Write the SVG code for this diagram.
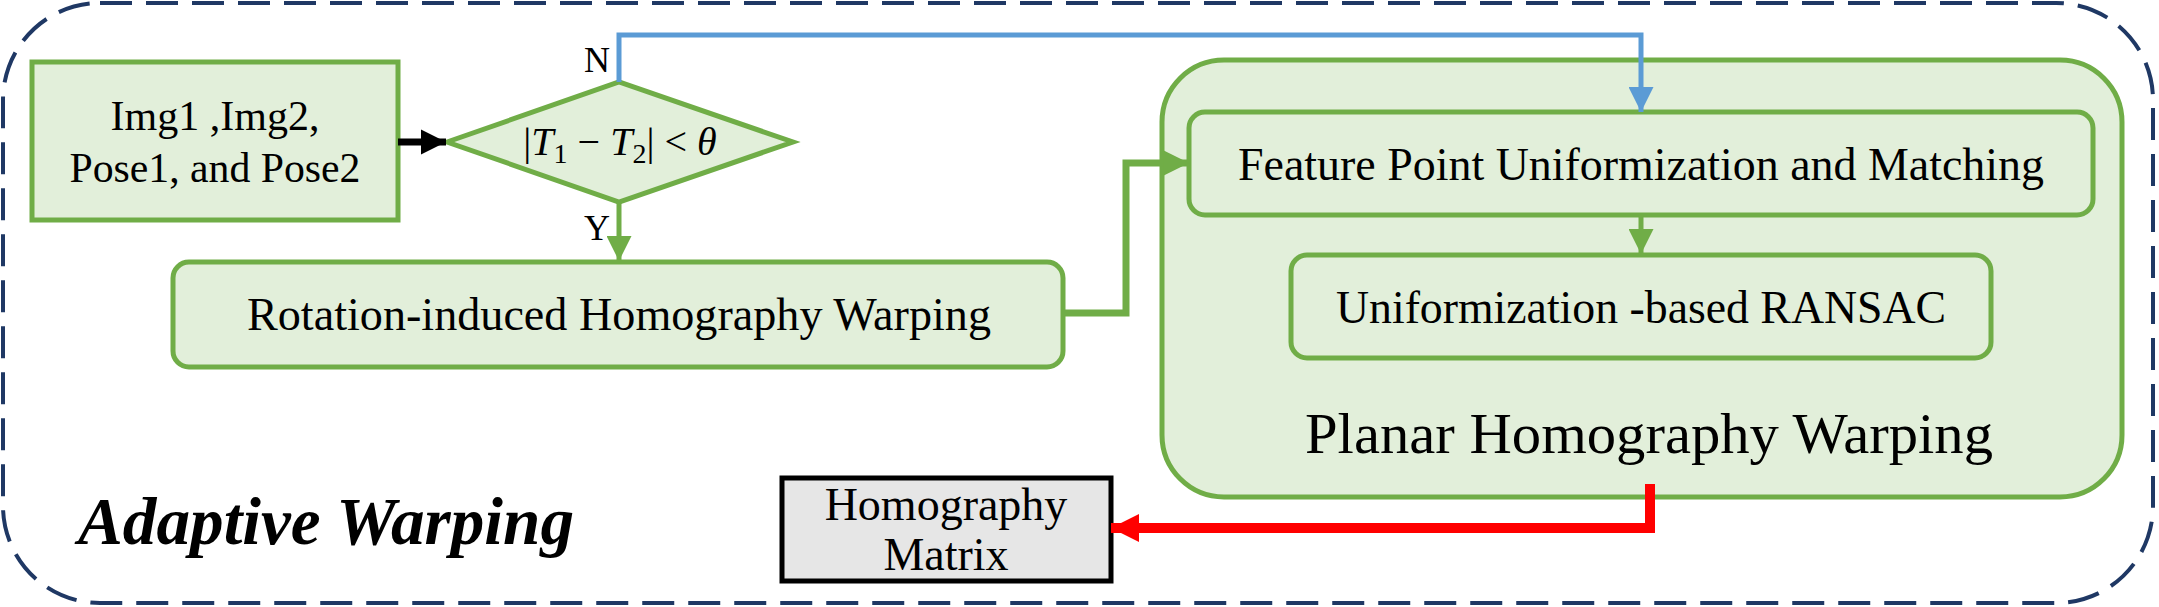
<svg xmlns="http://www.w3.org/2000/svg" width="2159" height="607" viewBox="0 0 2159 607">
<style>
.box{fill:#e2efda;stroke:#70ad47;stroke-width:5}
.t{font-family:"Liberation Serif","Times New Roman",serif;font-size:46px;fill:#000;text-anchor:middle}
.m{font-style:italic}
</style>
<defs>
<marker id="ag" viewBox="0 0 10 10" refX="10" refY="5" markerWidth="5" markerHeight="5" orient="auto" markerUnits="strokeWidth"><path d="M0,0 L10,5 L0,10 z" fill="#70ad47"/></marker>
<marker id="ag2" viewBox="0 0 10 10" refX="10" refY="5" markerWidth="3.8" markerHeight="3.6" orient="auto" markerUnits="strokeWidth"><path d="M0,0 L10,5 L0,10 z" fill="#70ad47"/></marker>
<marker id="ab" viewBox="0 0 10 10" refX="10" refY="5" markerWidth="5" markerHeight="5" orient="auto" markerUnits="strokeWidth"><path d="M0,0 L10,5 L0,10 z" fill="#5b9bd5"/></marker>
<marker id="ak" viewBox="0 0 10 10" refX="10" refY="5" markerWidth="3.6" markerHeight="3.6" orient="auto" markerUnits="strokeWidth"><path d="M0,0 L10,5 L0,10 z" fill="#000"/></marker>
<marker id="ar" viewBox="0 0 10 10" refX="10" refY="5" markerWidth="3" markerHeight="2.8" orient="auto" markerUnits="strokeWidth"><path d="M0,0 L10,5 L0,10 z" fill="#ff0000"/></marker>
</defs>
<g id="outer">
<rect x="3" y="3" width="2150" height="600" rx="97" fill="none" stroke="#1f3864" stroke-width="4" stroke-dasharray="32 14"/>
<text x="78" y="544" style="font-family:'Liberation Serif','Times New Roman',serif;font-size:68px;font-weight:bold;font-style:italic" textLength="496" lengthAdjust="spacingAndGlyphs">Adaptive Warping</text>
</g>
<g id="planar">
<rect class="box" x="1162" y="60" width="960" height="437" rx="62"/>
<text class="t" x="1649" y="453" style="font-size:58px" textLength="688" lengthAdjust="spacingAndGlyphs">Planar Homography Warping</text>
</g>
<g id="input">
<rect class="box" x="32" y="62" width="366" height="158"/>
<text class="t" x="215" y="130" style="font-size:42px">Img1 ,Img2,</text>
<text class="t" x="215" y="182" style="font-size:42px" textLength="291" lengthAdjust="spacingAndGlyphs">Pose1, and Pose2</text>
</g>
<g id="decision">
<polygon class="box" points="447,142 619,82 793,142 619,202"/>
<text class="t" x="620" y="155" style="font-size:40px">|<tspan class="m">T</tspan><tspan font-size="28" dy="8">1</tspan><tspan dy="-8"> − </tspan><tspan class="m">T</tspan><tspan font-size="28" dy="8">2</tspan><tspan dy="-8">| &lt; </tspan><tspan class="m">θ</tspan></text>
<text class="t" x="597" y="72" style="font-size:36px">N</text>
<text class="t" x="597" y="240" style="font-size:36px">Y</text>
</g>
<g id="rotation">
<rect class="box" x="173" y="262" width="890" height="105" rx="16"/>
<text class="t" x="619" y="330" textLength="744" lengthAdjust="spacingAndGlyphs">Rotation-induced Homography Warping</text>
</g>
<g id="feature">
<rect class="box" x="1189" y="112" width="904" height="103" rx="16"/>
<text class="t" x="1641" y="180" textLength="806" lengthAdjust="spacingAndGlyphs">Feature Point Uniformization and Matching</text>
</g>
<g id="ransac">
<rect class="box" x="1291" y="255" width="700" height="103" rx="16"/>
<text class="t" x="1641" y="323" textLength="610" lengthAdjust="spacingAndGlyphs">Uniformization -based RANSAC</text>
</g>
<g id="matrix">
<rect x="782" y="478" width="329" height="103" fill="#e6e6e6" stroke="#000" stroke-width="5"/>
<text class="t" x="946" y="520">Homography</text>
<text class="t" x="946" y="570">Matrix</text>
</g>
<g id="connectors" fill="none">
<path d="M398,142 H446" stroke="#000" stroke-width="7" marker-end="url(#ak)"/>
<path d="M619,82 V35 H1641 V112" stroke="#5b9bd5" stroke-width="5" marker-end="url(#ab)"/>
<path d="M619,202 V261" stroke="#70ad47" stroke-width="5" marker-end="url(#ag)"/>
<path d="M1063,313 H1126 V163 H1189" stroke="#70ad47" stroke-width="7" marker-end="url(#ag2)"/>
<path d="M1641,215 V254" stroke="#70ad47" stroke-width="5" marker-end="url(#ag)"/>
<path d="M1650,484 V528 H1111" stroke="#ff0000" stroke-width="10" marker-end="url(#ar)"/>
</g>
</svg>
